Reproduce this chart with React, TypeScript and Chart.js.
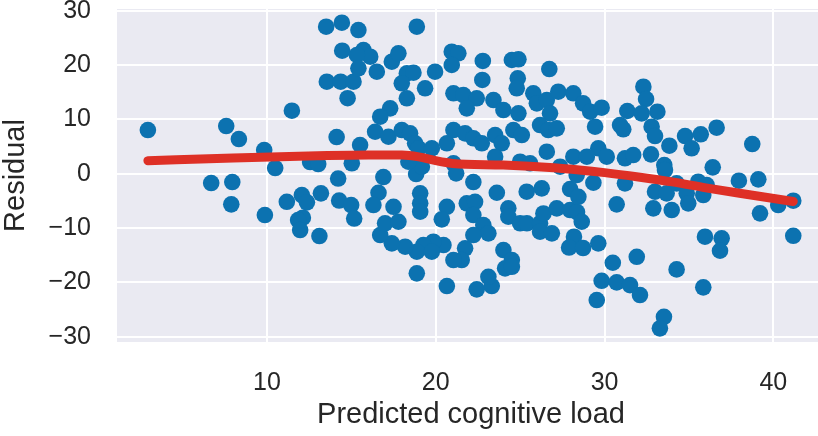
import { useEffect, useRef } from 'react';
import { Chart, registerables } from 'chart.js';

Chart.register(...registerables);

// Predicted cognitive load (x) and residual (y) for each observation
const residX = [
  2.95, 6.7, 7.59, 7.95, 8.34, 7.89, 9.84, 9.88, 10.49, 11.48, 11.18, 12.07, 12.37, 13.2, 12.13, 11.85,
  11.97, 13.11, 12.56, 13.04, 13.51, 14.44, 14.46, 13.55, 14.37, 15.13, 14.78, 14.13, 14.22, 14.28, 14.99,
  15.17, 15.42, 18.88, 15.72, 16.12, 15.33, 15.42, 16.51, 17.4, 17.79, 18.29, 18.68, 17.99, 18.29, 19.37,
  19.96, 20.95, 21.34, 20.95, 22.79, 22.76, 24.51, 24.9, 24.86, 24.8, 26.73, 21.05, 21.64, 22.43, 21.84,
  23.42, 24.01, 24.9, 25.78, 25.99, 26.58, 27.26, 28.15, 28.73, 26.77, 17.3, 16.71, 16.41, 17.2, 17.99,
  18.48, 18.78, 18.98, 19.77, 15.52, 15.03, 20.66, 21.05, 21.74, 22.23, 22.73, 23.52, 23.91, 24.6, 25.1,
  26.18, 26.67, 27.17, 26.58, 23.52, 25.0, 25.59, 27.37, 28.15, 21.05, 21.21, 22.23, 16.9, 18.84, 19.18,
  16.61, 16.31, 17.5, 19.08, 19.08, 19.08, 20.66, 20.36, 21.84, 22.33, 22.23, 22.82, 23.12, 22.23, 21.74,
  21.54, 21.05, 20.46, 19.86, 19.27, 18.88, 19.77, 18.19, 17.4, 16.71, 17.0, 17.79, 18.88, 20.66, 22.43,
  23.32, 23.12, 24.01, 24.51, 24.11, 24.51, 24.3, 24.3, 25.0, 25.4, 26.18, 26.18, 26.88, 26.38, 27.17,
  27.96, 28.37, 28.19, 27.9, 28.73, 23.62, 25.39, 26.28, 27.96, 29.15, 29.83, 29.44, 30.92, 31.11, 31.35,
  32.3, 32.46, 32.2, 33.13, 32.79, 32.99, 33.84, 34.77, 35.16, 35.7, 36.64, 38.75, 29.63, 28.95, 30.13,
  31.21, 31.7, 32.75, 33.54, 36.41, 28.35, 29.34, 31.21, 32.99, 33.68, 34.27, 34.87, 35.55, 36.05, 35.85,
  34.96, 32.89, 33.98, 30.72, 28.45, 28.65, 29.63, 33.58, 37.96, 39.11, 40.29, 39.21, 41.18, 41.18, 35.95,
  36.94, 36.84, 30.49, 31.91, 34.27, 29.83, 30.72, 31.51, 32.1, 29.54, 35.85, 33.52, 33.28, 18.38,
];
const residY = [
  8.05, -1.71, 8.78, -1.53, 6.39, -5.64, 4.36, -7.61, 1.05, 11.6, -5.16, -3.92, -5.27, -3.61, -8.1, -8.53,
  -10.37, -11.47, 2.15, 1.79, 27.07, 27.8, 22.65, 16.94, 16.94, 16.94, 13.9, 6.76, -0.88, -4.94, -5.76,
  -8.25, 26.46, 27.07, 22.78, 21.55, 21.86, 19.41, 18.78, 20.63, 22.17, 18.49, 18.6, 16.65, 13.89, 15.73,
  18.78, 22.47, 22.17, 20.02, 20.76, 17.26, 20.94, 21.07, 17.57, 15.73, 19.28, 14.81, 14.49, 13.89, 12.04,
  13.57, 11.73, 11.12, 14.81, 12.96, 13.57, 15.1, 14.81, 12.96, 11.12, 12.04, 10.5, 7.73, 6.81, 8.05,
  7.44, 5.6, 4.68, 4.68, 5.29, 1.92, 5.6, 8.05, 7.44, 6.52, 5.6, 7.13, 5.6, 8.05, 7.13,
  8.97, 8.05, 8.36, 4.05, 3.13, 2.21, 1.92, 1.29, 3.13, 1.92, 0.07, -1.53, -0.61, -0.06, 1.29,
  -3.5, -5.76, -6.08, -3.61, -5.45, -7.0, -6.08, -8.4, -5.45, -5.16, -7.61, -9.45, -10.98, -11.29, -13.74,
  -15.89, -15.89, -13.13, -12.52, -13.13, -14.36, -14.36, -13.44, -12.82, -11.29, -9.13, -8.84, -18.34, -20.68, -21.29,
  -20.68, -18.97, -14.05, -15.89, -17.42, -17.13, -6.37, -7.92, -9.13, -9.13, -9.13, -10.68, -10.98, -7.31, -6.37,
  -6.69, -7.05, -11.6, -13.59, -13.68, -3.5, -3.31, -2.69, -2.82, 11.42, 12.15, 8.66, 8.97, 8.18, 11.55,
  16.02, 13.76, 11.12, 11.42, 8.66, 6.94, 5.16, 6.94, 4.68, 7.26, 8.47, 5.47, 4.68, 3.13, 3.13,
  2.84, 3.44, 3.57, 1.6, 1.18, -0.24, -1.66, -1.77, -3.31, -3.61, -1.77, -3.61, -1.47, -2.08, -3.92,
  -5.45, -6.37, -6.69, -5.64, -4.24, -8.84, -12.82, 0.68, -1.29, -1.03, -5.76, -7.29, -4.97, -11.42, -11.6,
  -11.9, -14.18, -16.39, -15.29, -17.61, -19.71, -20.0, -20.5, -22.34, -23.26, -20.92, -26.34, -28.47, 2.21,
];

// LOWESS trend of the residuals
const lowessX = [2.95, 8, 13, 16, 18, 19, 20, 21, 24, 27, 28.5, 30, 32, 34, 36, 38, 41.18];
const lowessY = [2.4, 2.9, 3.3, 3.45, 3.45, 3.1, 2.4, 1.9, 1.6, 1.1, 0.7, 0.2, -0.6, -1.5, -2.6, -3.6, -5.1];

const xTicks = [10, 20, 30, 40];
const yTicks = [-30, -20, -10, 0, 10, 20, 30];

const fmt = (v: number) => (v < 0 ? '\u2212' + Math.abs(v) : String(v));

const zeroPad = (s: any) => {
  s.paddingTop = 0;
  s.paddingBottom = 0;
  s.paddingLeft = 0;
  s.paddingRight = 0;
};

export default function App() {
  const ref = useRef<HTMLCanvasElement>(null);

  useEffect(() => {
    if (!ref.current) return;
    const bg = {
      id: 'bg',
      beforeDraw(chart: any) {
        const { ctx, chartArea: a } = chart;
        ctx.save();
        ctx.fillStyle = '#eaeaf2';
        ctx.fillRect(a.left, a.top, a.right - a.left, a.bottom - a.top);
        ctx.restore();
      },
    };
    const family = "'Liberation Sans', Arial, sans-serif";
    const chart = new Chart(ref.current, {
      type: 'scatter',
      data: {
        datasets: [
          {
            type: 'line',
            data: lowessX.map((x, i) => ({ x, y: lowessY[i] })),
            borderColor: '#de3026',
            borderWidth: 9,
            borderCapStyle: 'round',
            borderJoinStyle: 'round',
            pointRadius: 0,
            cubicInterpolationMode: 'monotone',
            fill: false,
          } as any,
          {
            data: residX.map((x, i) => ({ x, y: residY[i] })),
            backgroundColor: '#0c72b0',
            borderWidth: 0,
            pointRadius: 8.3,
            pointHoverRadius: 8.3,
          },
        ],
      },
      options: {
        animation: false,
        responsive: false,
        devicePixelRatio: 1,
        layout: { autoPadding: false, padding: { top: 9, left: 0, right: 0, bottom: 0 } },
        plugins: { legend: { display: false }, tooltip: { enabled: false } },
        scales: {
          x: {
            type: 'linear',
            min: 1.12,
            max: 43.06,
            afterBuildTicks: (s: any) => {
              s.ticks = xTicks.map((v) => ({ value: v }));
            },
            afterFit: (s: any) => {
              s.height = 94;
              zeroPad(s);
            },
            grid: { color: '#ffffff', lineWidth: 2, drawTicks: false },
            border: { display: false },
            ticks: {
              padding: 26,
              color: '#262626',
              font: { family, size: 25 },
              callback: (v: any) => fmt(Number(v)),
            },
            title: {
              display: true,
              text: 'Predicted cognitive load',
              color: '#262626',
              font: { family, size: 29 },
              padding: { top: 0, bottom: 4 },
            },
          },
          y: {
            type: 'linear',
            min: -30.98,
            max: 30.33,
            afterBuildTicks: (s: any) => {
              s.ticks = yTicks.map((v) => ({ value: v }));
            },
            afterFit: (s: any) => {
              s.width = 117;
              zeroPad(s);
            },
            grid: { color: '#ffffff', lineWidth: 2, drawTicks: false },
            border: { display: false },
            ticks: {
              padding: 26,
              color: '#262626',
              font: { family, size: 25 },
              callback: (v: any) => fmt(Number(v)),
            },
            title: {
              display: true,
              text: 'Residual',
              color: '#262626',
              font: { family, size: 29, lineHeight: 1.1 },
              padding: { top: 0, bottom: 0 },
            },
          },
        },
      },
      plugins: [bg],
    });
    return () => chart.destroy();
  }, []);

  return (
    <div style={{ position: 'absolute', left: 0, top: 0, width: 818, height: 436, overflow: 'hidden' }}>
      <canvas ref={ref} width={825} height={436} style={{ display: 'block', width: 825, height: 436 }} />
    </div>
  );
}
